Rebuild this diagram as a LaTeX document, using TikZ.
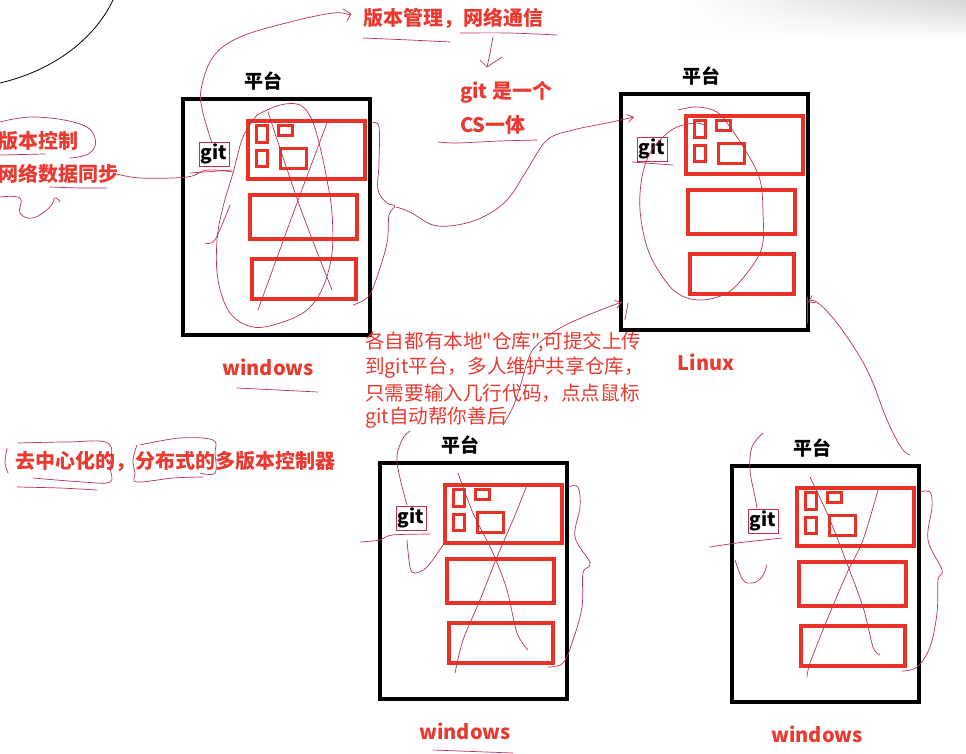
\documentclass[tikz,border=0pt]{standalone}
\usepackage{fontspec}
\setmainfont{Noto Sans CJK SC}[Ligatures=TeXOff]
\usetikzlibrary{arrows.meta,fadings}
\definecolor{inkred}{RGB}{232,50,40}
\definecolor{txtred}{RGB}{232,58,48}
\definecolor{pen}{RGB}{188,50,78}
\tikzfading[name=fadeleft, left color=transparent!100, right color=transparent!0]
\tikzset{
 pbox/.style={draw=black, line width=4.5pt, anchor=north west, inner sep=0pt, outer sep=0pt},
 rbox/.style={draw=inkred, line width=3.5pt, anchor=north west, inner sep=0pt, outer sep=0pt},
 sbox/.style={draw=inkred, line width=3pt, anchor=north west, inner sep=0pt, outer sep=0pt},
 titletxt/.style={font=\bfseries\fontsize{19}{22}\selectfont, text=black, inner sep=0pt},
 gitlbl/.style={font=\bfseries\fontsize{19}{22}\selectfont, text=black, draw=pen, line width=0.5pt, inner sep=2pt},
 redtxt/.style={font=\bfseries\fontsize{20}{24}\selectfont, text=txtred, anchor=west, inner sep=0pt},
 paratxt/.style={font=\fontsize{19.6}{25}\selectfont, text=txtred, anchor=west, inner sep=0pt},
 hand/.style={draw=pen, line width=0.7pt, line cap=round, line join=round},
 handtip/.style={hand, -{Straight Barb[length=6pt,width=8pt]}},
}
\newcommand\platform[4]{%
 \begin{scope}[shift={(#2,#3)}]
  \node[pbox, minimum width=187pt, minimum height=236pt] (#1) at (0,0) {};
  \node[titletxt] (#1-t) at (80,-18) {平台};
  \node[gitlbl] (#1-g) at (31,55) {git};
  \node[rbox, minimum width=117pt, minimum height=58pt] (#1-r1) at (65,22) {};
  \node[sbox, minimum width=11pt, minimum height=17pt] (#1-s1) at (73,26) {};
  \node[sbox, minimum width=14pt, minimum height=10pt] (#1-s2) at (95,26) {};
  \node[sbox, minimum width=11pt, minimum height=16pt] (#1-s3) at (73,51) {};
  \node[sbox, minimum width=26pt, minimum height=20pt] (#1-s4) at (97,49) {};
  \node[rbox, minimum width=107pt, minimum height=44pt] (#1-r2) at (67,96) {};
  \node[rbox, minimum width=104pt, minimum height=40pt] (#1-r3) at (69,160) {};
  \node[redtxt, anchor=center] (#1-l) at (85,268) {#4};
 \end{scope}}
\begin{document}
\begin{tikzpicture}[x=1pt,y=-1pt]
\useasboundingbox (0,0) rectangle (966,753);
\fill[white] (0,0) rectangle (966,753);
\shade[top color=black!16, bottom color=white, path fading=fadeleft] (680,0) rectangle (966,40);

% black arc
\draw[black, line width=0.8pt] (113,0) .. controls (95,38) and (55,70) .. (0,83);

% platforms
\platform{pa}{183}{99}{windows}
\platform{pb}{621}{94}{Linux}
\platform{pc}{380}{463}{windows}
\platform{pd}{732}{466}{windows}

% texts
\node[redtxt] (t1) at (363,18) {版本管理，网络通信};
\node[redtxt] (t2) at (460,92) {git 是一个};
\node[redtxt] (t3) at (460,125) {CS一体};
\node[redtxt] (t4) at (-2,141) {版本控制};
\node[redtxt] (t5) at (-2,174) {网络数据同步};
\node[redtxt] (t6) at (15,461) {去中心化的，分布式的多版本控制器};
\node[paratxt] (p1) at (365,342) {各自都有本地"仓库",可提交上传};
\node[paratxt] (p2) at (365,368) {到git平台，多人维护共享仓库，};
\node[paratxt] (p3) at (365,393) {只需要输入几行代码，点点鼠标};
\node[paratxt] (p4) at (365,418) {git自动帮你善后};

% ---- hand strokes ----
% top: git (pa) up to 版本管理
\draw[hand] plot[smooth, tension=0.6] coordinates {(212,143) (203,113) (201,90) (213,57) (240,37) (290,22) (333,13) (350,15)};
\draw[hand] (343,9) -- (351,14) -- (347,21);
% underlines near top
\draw[hand] plot[smooth] coordinates {(363,38) (410,40) (450,42)};
\draw[hand] plot[smooth] coordinates {(460,33) (510,33) (557,35)};
\draw[hand] plot[smooth] coordinates {(493,37) (490,53) (487,67)};
\draw[hand] (480,60) -- (487,67) -- (502,57);
\draw[hand] plot[smooth] coordinates {(438,142) (457,143) (500,141) (537,140)};
% left texts loop & underlines
\draw[hand] plot[smooth, tension=0.7] coordinates {(0,122) (35,117) (80,124) (95,138) (90,153) (70,158)};
\draw[hand] (0,155) -- (45,154);
\draw[hand] plot[smooth] coordinates {(50,187) (80,188) (107,188)};
\draw[hand] plot[smooth, tension=0.7] coordinates {(0,197) (20,198) (20,213) (33,218) (50,207) (55,198) (60,202)};
% 网络数据同步 -> git
\draw[hand] plot[smooth, tension=0.6] coordinates {(113,173) (140,178) (187,177) (207,170) (233,172)};
\draw[hand] (190,173) -- (232,170);
% pa inner loop and cross
\draw[hand] plot[smooth, tension=0.6] coordinates {(257,115) (280,105) (300,105) (312,120) (320,147) (327,180) (332,213) (332,253) (323,287) (307,310) (280,323) (253,327) (230,313) (218,280) (217,240) (223,207) (233,173) (243,137) (257,115)};
\draw[hand] plot[smooth] coordinates {(327,123) (297,203) (258,310)};
\draw[hand] plot[smooth] coordinates {(268,112) (300,207) (332,290)};
\draw[hand] plot[smooth] coordinates {(230,205) (215,240) (205,243)};
% pa right wiggle and path to Linux git
\draw[hand] plot[smooth, tension=0.6] coordinates {(372,123) (379,127) (379,163) (378,190) (387,203) (395,206) (389,215) (387,243) (377,277) (368,297) (353,305)};
\draw[handtip] plot[smooth, tension=0.6] coordinates {(396,207) (410,212) (433,225) (457,225) (483,217) (507,200) (527,170) (547,140) (573,130) (607,123) (634,117)};
% pb inner loop
\draw[hand] plot[smooth, tension=0.6] coordinates {(678,110) (697,107) (717,112) (730,127) (747,153) (760,180) (763,213) (762,247) (747,273) (727,293) (700,300) (677,293) (660,273) (647,247) (640,210) (642,177) (650,153) (662,138) (677,127) (697,123) (707,127)};
\draw[hand] (632,162) -- (673,165);
% text curve to Linux box
\draw[handtip] plot[smooth, tension=0.6] coordinates {(503,425) (513,407) (520,387) (527,363) (535,347) (560,328) (593,313) (622,302)};
\draw[hand] (628,303) -- (625,320);
\draw[hand] plot[smooth, tension=0.6] coordinates {(407,505) (397,462) (402,440) (410,431)};
% Linux right -> pd
\draw[hand] (807,297) -- (807,323);
\draw[hand, {Straight Barb[length=6pt,width=8pt]}-] plot[smooth, tension=0.6] coordinates {(808,302) (818,303) (837,323) (860,357) (873,383) (883,410) (893,433) (903,450) (910,455)};
% pc strokes
\draw[hand] plot[smooth] coordinates {(458,473) (473,513) (493,553) (507,590) (517,633) (528,650)};
\draw[hand] plot[smooth] coordinates {(527,485) (513,520) (497,557) (480,600) (463,640) (455,673)};
\draw[hand] plot[smooth, tension=0.6] coordinates {(568,487) (578,487) (580,507) (575,537) (590,563) (583,573) (582,607) (573,640) (563,663) (548,667)};
\draw[hand] plot[smooth] coordinates {(360,542) (380,540) (392,535) (430,534)};
\draw[hand] plot[smooth, tension=0.6] coordinates {(407,540) (410,567) (415,573) (427,567) (443,545)};
\draw[hand] (433,750) -- (513,753);
% pd strokes
\draw[hand] plot[smooth] coordinates {(810,477) (827,513) (843,553) (863,607) (873,647) (880,655)};
\draw[hand] plot[smooth] coordinates {(878,490) (863,540) (847,573) (827,620) (810,663) (807,677)};
\draw[hand] plot[smooth, tension=0.6] coordinates {(920,492) (930,492) (932,507) (928,540) (942,570) (938,580) (937,613) (930,647) (917,667) (902,671)};
\draw[hand] plot[smooth] coordinates {(710,547) (737,543) (782,538)};
\draw[hand] plot[smooth, tension=0.6] coordinates {(735,560) (743,580) (753,583) (762,577) (767,565)};
\draw[hand] plot[smooth, tension=0.6] coordinates {(763,433) (752,447) (750,470) (755,497) (757,508)};
% windows underline pa
\draw[hand] (237,388) -- (318,392);
% loops around 去中心化的 / 分布式的
\draw[hand] plot[smooth] coordinates {(7,448) (5,463) (8,473)};
\draw[hand] plot[smooth, tension=0.6] coordinates {(18,443) (67,442) (108,443) (110,467) (110,482) (83,482) (33,478)};
\draw[hand] plot[smooth] coordinates {(17,487) (60,488) (97,490)};
\draw[hand] plot[smooth, tension=0.6] coordinates {(137,445) (133,460) (135,473) (137,482) (173,478) (203,477)};
\draw[hand] plot[smooth, tension=0.6] coordinates {(140,445) (180,438) (213,440) (215,453) (215,473) (200,473)};
\end{tikzpicture}
\end{document}
